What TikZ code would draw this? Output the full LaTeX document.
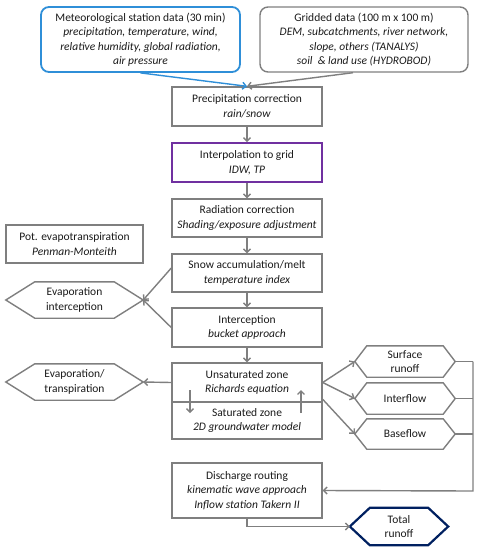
\documentclass[tikz,border=0pt]{standalone}
\usepackage{fontspec}
\setmainfont{Carlito}
\usetikzlibrary{arrows.meta,calc}
\definecolor{lg}{HTML}{7F7F7F}
\definecolor{bl}{HTML}{2F8FD8}
\definecolor{pu}{HTML}{7030A0}
\definecolor{nv}{HTML}{002060}
\definecolor{tx}{HTML}{1A1A1A}
\begin{document}
\begin{tikzpicture}[x=1pt,y=-1pt,
  txt/.style={align=center, inner sep=0pt, text=tx, font=\fontsize{11.5}{14.5}\selectfont},
  box/.style={txt, rectangle, draw=lg, line width=1.4pt, minimum width=150pt},
  hexb/.style={txt, rectangle, draw=none},
  hexline/.style={draw=lg, line width=1.4pt, line join=miter},
  arr/.style={draw=lg, line width=1.4pt, -{Straight Barb[length=3.5pt,width=7pt,line width=1.4pt]}},
  ln/.style={draw=lg, line width=1.4pt}]
\useasboundingbox (0,0) rectangle (480,550);

% top input boxes
\node[box, draw=bl, line width=1.8pt, rounded corners=8pt, minimum width=199pt, minimum height=65pt] (met) at (140.5,39.5)
  {Meteorological station data (30 min)\\ \textit{precipitation, temperature, wind,}\\ \textit{relative humidity, global radiation,}\\ \textit{air pressure}};
\node[box, rounded corners=8pt, minimum width=208pt, minimum height=65pt] (grid) at (364,39.5)
  {Gridded data (100 m x 100 m)\\ \textit{DEM, subcatchments, river network,}\\ \textit{slope, others (TANALYS)}\\ \textit{soil \ \& land use (HYDROBOD)}};

% main column
\node[box, minimum height=39pt] (prec) at (247,106.5) {Precipitation correction\\ \textit{rain/snow}};
\node[box, draw=pu, line width=1.8pt, minimum height=39pt] (interp) at (247,162.5) {Interpolation to grid\\ \textit{IDW, TP}};
\node[box, minimum height=38pt] (rad) at (247,218) {Radiation correction\\ \textit{Shading/exposure adjustment}};
\node[box, minimum width=137pt, minimum height=38pt] (pet) at (74.5,244) {Pot. evapotranspiration\\ \textit{Penman-Monteith}};
\node[box, minimum height=38pt] (snow) at (247,273) {Snow accumulation/melt\\ \textit{temperature index}};
\node[box, minimum height=39pt] (intc) at (247,327.5) {Interception\\ \textit{bucket approach}};
\node[box, minimum height=39pt] (unsat) at (247,382.5) {Unsaturated zone\\ \textit{Richards equation}};
\node[box, minimum height=37pt] (sat) at (247,420.5) {Saturated zone\\ \textit{2D groundwater model}};
\node[box, minimum height=55pt] (dis) at (247,490.5) {Discharge routing\\ \textit{kinematic wave approach}\\ \textit{Inflow station Takern II}};

% hexagon nodes
\node[hexb, minimum width=137pt, minimum height=36pt] (evi) at (74.5,300) {Evaporation\\ interception};
\node[hexb, minimum width=137pt, minimum height=36pt] (evt) at (74.5,382) {Evaporation/\\ transpiration};
\node[hexb, minimum width=100pt, minimum height=31pt] (sr) at (405,361.5) {Surface\\ runoff};
\node[hexb, minimum width=100pt, minimum height=31pt] (ifl) at (405,398.5) {Interflow};
\node[hexb, minimum width=100pt, minimum height=30pt] (bf) at (405,434) {Baseflow};
\node[hexb, minimum width=98pt, minimum height=37pt] (tot) at (399,526.5) {Total\\ runoff};

\foreach \n/\d in {evi/29, evt/29, sr/12, ifl/12, bf/12}{
  \draw[hexline] (\n.west) -- ([xshift=\d pt]\n.north west) -- ([xshift=-\d pt]\n.north east) -- (\n.east)
    -- ([xshift=-\d pt]\n.south east) -- ([xshift=\d pt]\n.south west) -- cycle;
}
\draw[hexline, draw=nv, line width=2.2pt] (tot.west) -- ([xshift=20pt]tot.north west) -- ([xshift=-20pt]tot.north east) -- (tot.east)
    -- ([xshift=-20pt]tot.south east) -- ([xshift=20pt]tot.south west) -- cycle;

% connectors
\draw[arr, draw=bl] (met.south) -- (prec.north);
\draw[arr] ([xshift=-11pt]grid.south) -- (prec.north);
\draw[arr] (prec) -- (interp);
\draw[arr] (interp) -- (rad);
\draw[arr] (rad) -- (snow);
\draw[arr] (snow) -- (intc);
\draw[arr] (intc) -- (unsat);
\draw[arr] ([yshift=5pt]snow.west) -- (evi.east);
\draw[arr] (intc.west) -- (evi.east);
\draw[arr] (unsat.west) -- (evt.east);
\draw[arr] (unsat.east) -- (sr.west);
\draw[arr] (unsat.east) -- (ifl.west);
\draw[arr] ([yshift=2pt]sat.north east) -- (bf.west);

% internal exchange arrows
\coordinate (dA) at (190,390);
\coordinate (dB) at (190,413);
\coordinate (uA) at (301,413);
\coordinate (uB) at (301,390);
\draw[arr] (dA) -- (dB);
\draw[arr] (uA) -- (uB);

% collector line on the right
\coordinate (rc) at (473,491);
\draw[ln] (sr.east) -- (sr.east -| rc);
\draw[ln] (ifl.east) -- (ifl.east -| rc);
\draw[ln] (bf.east) -- (bf.east -| rc);
\draw[arr] (sr.east -| rc) -- (rc) -- (dis.east);

% discharge to total runoff
\draw[arr] (dis.south) |- (tot.west);
\end{tikzpicture}
\end{document}
